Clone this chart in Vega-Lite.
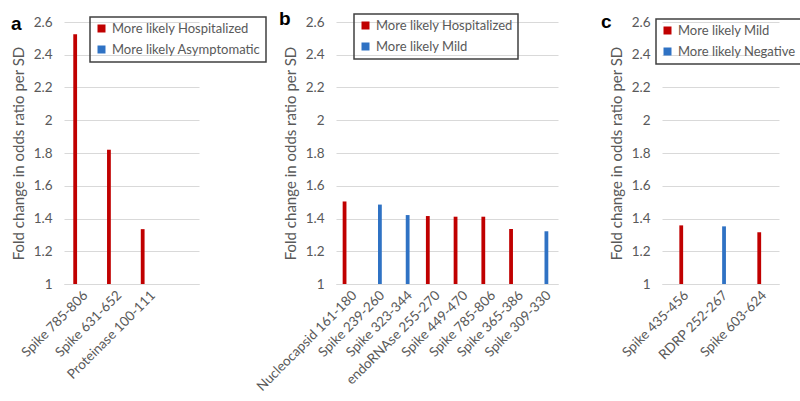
{
  "$schema": "https://vega.github.io/schema/vega-lite/v6.json",
  "padding": {"left": 11, "top": 10, "right": 5, "bottom": 5},
  "bounds": "flush",
  "config": {
    "font": "Lato",
    "view": {"stroke": null},
    "axis": {
      "labelColor": "#595959",
      "labelFontSize": 13.5,
      "titleColor": "#595959",
      "titleFontSize": 15,
      "titleFontWeight": "normal",
      "gridColor": "#d9d9d9",
      "ticks": false
    },
    "legend": {
      "orient": "none",
      "title": null,
      "strokeColor": "#404040",
      "strokeWidth": 1.5,
      "padding": 5,
      "symbolType": "square",
      "symbolSize": 64,
      "symbolStrokeWidth": 0,
      "labelFontSize": 13,
      "labelColor": "#595959",
      "labelLimit": 300,
      "rowPadding": 7
    },
    "title": {"font": "Liberation Sans", "fontSize": 19, "fontWeight": "bold", "color": "#000000", "anchor": "start", "frame": "group", "baseline": "middle", "offset": 0}
  },
  "spacing": 137,
  "hconcat": [
    {
      "width": 135,
      "height": 262,
      "title": {"text": "a", "dx": -53, "dy": 23},
      "data": {"values": [
        {"epitope": "Spike 785-806", "group": "More likely Hospitalized", "fold": 2.525},
        {"epitope": "Spike 631-652", "group": "More likely Hospitalized", "fold": 1.82},
        {"epitope": "Proteinase 100-111", "group": "More likely Hospitalized", "fold": 1.335}
      ]},
      "mark": {"type": "bar"},
      "encoding": {
        "x": {"field": "epitope", "type": "nominal", "sort": null,
          "scale": {"domain": ["Spike 785-806", "Spike 631-652", "Proteinase 100-111", " "], "paddingInner": 0.55, "paddingOuter": 0.275},
          "axis": {"title": null, "labelAngle": -45, "domain": true, "domainColor": "#d9d9d9", "labelPadding": 4}},
        "xOffset": {"field": "group", "type": "nominal", "scale": {"domain": ["More likely Hospitalized", "More likely Asymptomatic"]}},
        "y": {"field": "fold", "type": "quantitative", "scale": {"domain": [1, 2.6]},
          "axis": {"title": "Fold change in odds ratio per SD", "values": [1, 1.2, 1.4, 1.6, 1.8, 2, 2.2, 2.4, 2.6], "format": "~g", "domain": false, "labelPadding": 12, "titlePadding": 7}},
        "y2": {"datum": 1},
        "color": {"field": "group", "type": "nominal",
          "scale": {"domain": ["More likely Hospitalized", "More likely Asymptomatic"], "range": ["#C00000", "#2F72C4"]},
          "legend": {"legendX": 26, "legendY": -5}}
      }
    },
    {
      "spacing": 104,
      "bounds": "flush",
      "resolve": {"scale": {"color": "independent"}},
      "hconcat": [
        {
          "width": 222,
          "height": 262,
          "title": {"text": "b", "dx": -57, "dy": 20},
          "data": {"values": [
            {"epitope": "Nucleocapsid 161-180", "group": "More likely Hospitalized", "fold": 1.504},
            {"epitope": "Spike 239-260", "group": "More likely Mild", "fold": 1.485},
            {"epitope": "Spike 323-344", "group": "More likely Mild", "fold": 1.421},
            {"epitope": "endoRNAse 255-270", "group": "More likely Hospitalized", "fold": 1.415},
            {"epitope": "Spike 449-470", "group": "More likely Hospitalized", "fold": 1.411},
            {"epitope": "Spike 785-806", "group": "More likely Hospitalized", "fold": 1.411},
            {"epitope": "Spike 365-386", "group": "More likely Hospitalized", "fold": 1.336},
            {"epitope": "Spike 309-330", "group": "More likely Mild", "fold": 1.322}
          ]},
          "mark": {"type": "bar"},
          "encoding": {
            "x": {"field": "epitope", "type": "nominal", "sort": null,
              "scale": {"paddingInner": 0.48, "paddingOuter": 0.24},
              "axis": {"title": null, "labelAngle": -45, "domain": true, "domainColor": "#d9d9d9", "labelPadding": 4}},
            "xOffset": {"field": "group", "type": "nominal", "scale": {"domain": ["More likely Hospitalized", "More likely Mild"]}},
            "y": {"field": "fold", "type": "quantitative", "scale": {"domain": [1, 2.6]},
              "axis": {"title": "Fold change in odds ratio per SD", "values": [1, 1.2, 1.4, 1.6, 1.8, 2, 2.2, 2.4, 2.6], "format": "~g", "domain": false, "labelPadding": 12, "titlePadding": 7}},
            "y2": {"datum": 1},
            "color": {"field": "group", "type": "nominal",
              "scale": {"domain": ["More likely Hospitalized", "More likely Mild"], "range": ["#C00000", "#2F72C4"]},
              "legend": {"legendX": 18, "legendY": -8}}
          }
        },
        {
          "width": 117,
          "height": 262,
          "title": {"text": "c", "dx": -61, "dy": 21},
          "data": {"values": [
            {"epitope": "Spike 435-456", "group": "More likely Mild", "fold": 1.358},
            {"epitope": "RDRP 252-267", "group": "More likely Negative", "fold": 1.352},
            {"epitope": "Spike 603-624", "group": "More likely Mild", "fold": 1.316}
          ]},
          "mark": {"type": "bar"},
          "encoding": {
            "x": {"field": "epitope", "type": "nominal", "sort": null,
              "scale": {"paddingInner": 0.5, "paddingOuter": 0.25},
              "axis": {"title": null, "labelAngle": -45, "domain": true, "domainColor": "#d9d9d9", "labelPadding": 4}},
            "xOffset": {"field": "group", "type": "nominal", "scale": {"domain": ["More likely Mild", "More likely Negative"]}},
            "y": {"field": "fold", "type": "quantitative", "scale": {"domain": [1, 2.6]},
              "axis": {"title": "Fold change in odds ratio per SD", "values": [1, 1.2, 1.4, 1.6, 1.8, 2, 2.2, 2.4, 2.6], "format": "~g", "domain": false, "labelPadding": 12, "titlePadding": 7}},
            "y2": {"datum": 1},
            "color": {"field": "group", "type": "nominal",
              "scale": {"domain": ["More likely Mild", "More likely Negative"], "range": ["#C00000", "#2F72C4"]},
              "legend": {"legendX": -6, "legendY": -3}}
          }
        }
      ]
    }
  ],
  "resolve": {"scale": {"color": "independent"}}
}
